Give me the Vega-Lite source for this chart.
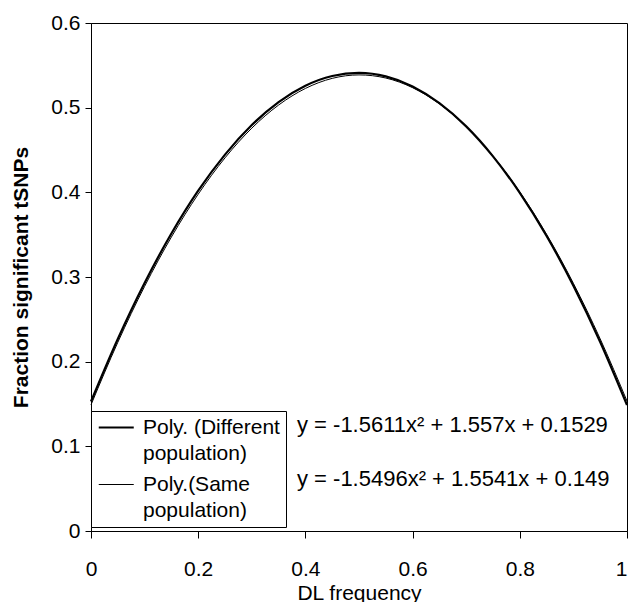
{
  "$schema": "https://vega.github.io/schema/vega-lite/v6.json",
  "width": 536,
  "height": 508,
  "autosize": {"type": "none"},
  "padding": {"left": 91, "top": 23, "right": 4, "bottom": 71},
  "background": "white",
  "config": {
    "font": "Liberation Sans",
    "view": {"stroke": "black", "strokeWidth": 1},
    "style": {"guide-label": {"lineHeight": 26}},
    "axis": {
      "grid": false,
      "domainColor": "black",
      "domainWidth": 1,
      "tickColor": "black",
      "tickWidth": 1,
      "labelColor": "black",
      "labelFont": "Liberation Sans",
      "labelFontSize": 21,
      "titleFont": "Liberation Sans",
      "titleFontSize": 21,
      "titleColor": "black",
      "labelFlush": false
    }
  },
  "datasets": {
    "curves": [
      {"x": 0.0, "y": 0.1529, "series": "Different"},
      {"x": 0.05, "y": 0.2268, "series": "Different"},
      {"x": 0.1, "y": 0.2930, "series": "Different"},
      {"x": 0.15, "y": 0.3513, "series": "Different"},
      {"x": 0.2, "y": 0.4019, "series": "Different"},
      {"x": 0.25, "y": 0.4446, "series": "Different"},
      {"x": 0.3, "y": 0.4795, "series": "Different"},
      {"x": 0.35, "y": 0.5066, "series": "Different"},
      {"x": 0.4, "y": 0.5259, "series": "Different"},
      {"x": 0.45, "y": 0.5374, "series": "Different"},
      {"x": 0.5, "y": 0.5411, "series": "Different"},
      {"x": 0.55, "y": 0.5370, "series": "Different"},
      {"x": 0.6, "y": 0.5251, "series": "Different"},
      {"x": 0.65, "y": 0.5054, "series": "Different"},
      {"x": 0.7, "y": 0.4779, "series": "Different"},
      {"x": 0.75, "y": 0.4425, "series": "Different"},
      {"x": 0.8, "y": 0.3994, "series": "Different"},
      {"x": 0.85, "y": 0.3485, "series": "Different"},
      {"x": 0.9, "y": 0.2897, "series": "Different"},
      {"x": 0.95, "y": 0.2232, "series": "Different"},
      {"x": 1.0, "y": 0.1488, "series": "Different"},
      {"x": 0.0, "y": 0.1490, "series": "Same"},
      {"x": 0.05, "y": 0.2228, "series": "Same"},
      {"x": 0.1, "y": 0.2889, "series": "Same"},
      {"x": 0.15, "y": 0.3472, "series": "Same"},
      {"x": 0.2, "y": 0.3978, "series": "Same"},
      {"x": 0.25, "y": 0.4407, "series": "Same"},
      {"x": 0.3, "y": 0.4758, "series": "Same"},
      {"x": 0.35, "y": 0.5031, "series": "Same"},
      {"x": 0.4, "y": 0.5227, "series": "Same"},
      {"x": 0.45, "y": 0.5346, "series": "Same"},
      {"x": 0.5, "y": 0.5387, "series": "Same"},
      {"x": 0.55, "y": 0.5350, "series": "Same"},
      {"x": 0.6, "y": 0.5236, "series": "Same"},
      {"x": 0.65, "y": 0.5045, "series": "Same"},
      {"x": 0.7, "y": 0.4776, "series": "Same"},
      {"x": 0.75, "y": 0.4429, "series": "Same"},
      {"x": 0.8, "y": 0.4005, "series": "Same"},
      {"x": 0.85, "y": 0.3504, "series": "Same"},
      {"x": 0.9, "y": 0.2925, "series": "Same"},
      {"x": 0.95, "y": 0.2269, "series": "Same"},
      {"x": 1.0, "y": 0.1535, "series": "Same"}
    ]
  },
  "layer": [
    {
      "data": {"name": "curves"},
      "mark": {"type": "line", "color": "black", "interpolate": "monotone"},
      "encoding": {
        "x": {
          "field": "x",
          "type": "quantitative",
          "scale": {"domain": [0, 1], "nice": false},
          "axis": {
            "values": [0, 0.2, 0.4, 0.6, 0.8, 1],
            "format": ".1~f",
            "tickSize": 7,
            "labelPadding": 20,
            "labelAlign": {"expr": "datum.value == 1 ? 'right' : 'center'"},
            "title": "DL frequency",
            "titleFontWeight": "normal",
            "titleX": 268,
            "titleY": 68,
            "titleAlign": "center",
            "titleBaseline": "alphabetic"
          }
        },
        "y": {
          "field": "y",
          "type": "quantitative",
          "scale": {"domain": [0, 0.6], "nice": false},
          "axis": {
            "values": [0, 0.1, 0.2, 0.3, 0.4, 0.5, 0.6],
            "format": ".1~f",
            "tickSize": 6,
            "labelPadding": 5,
            "title": "Fraction significant tSNPs",
            "titleFontWeight": "bold",
            "titleAngle": -90,
            "titleX": -70,
            "titleY": 254,
            "titleAlign": "center",
            "titleBaseline": "middle"
          }
        },
        "strokeWidth": {
          "field": "series",
          "type": "nominal",
          "scale": {"type": "ordinal", "domain": ["Different", "Same"], "range": [2.2, 1]},
          "legend": {
            "title": null,
            "orient": "none",
            "legendX": 0,
            "legendY": 388,
            "direction": "vertical",
            "strokeColor": "black",
            "fillColor": "white",
            "padding": 6,
            "symbolType": "M-1,0H3",
            "symbolSize": 306.25,
            "symbolStrokeColor": "black",
            "symbolFillColor": "transparent",
            "labelFont": "Liberation Sans",
            "labelFontSize": 21,
            "labelColor": "black",
            "labelOffset": 25,
            "labelBaseline": "middle",
            "labelLimit": 300,
            "rowPadding": 9,
            "labelExpr": "datum.value == 'Different' ? ['Poly. (Different', 'population)'] : ['Poly.(Same', 'population)']"
          }
        }
      }
    },
    {
      "data": {"values": [{"equation": "y = -1.5611x² + 1.557x + 0.1529"}]},
      "mark": {"type": "text", "align": "left", "baseline": "middle", "fontSize": 22, "font": "Liberation Sans", "color": "black"},
      "encoding": {
        "x": {"datum": 0.3843, "type": "quantitative"},
        "y": {"datum": 0.1256, "type": "quantitative"},
        "text": {"field": "equation", "type": "nominal"}
      }
    },
    {
      "data": {"values": [{"equation": "y = -1.5496x² + 1.5541x + 0.149"}]},
      "mark": {"type": "text", "align": "left", "baseline": "middle", "fontSize": 22, "font": "Liberation Sans", "color": "black"},
      "encoding": {
        "x": {"datum": 0.3843, "type": "quantitative"},
        "y": {"datum": 0.0614, "type": "quantitative"},
        "text": {"field": "equation", "type": "nominal"}
      }
    }
  ]
}
